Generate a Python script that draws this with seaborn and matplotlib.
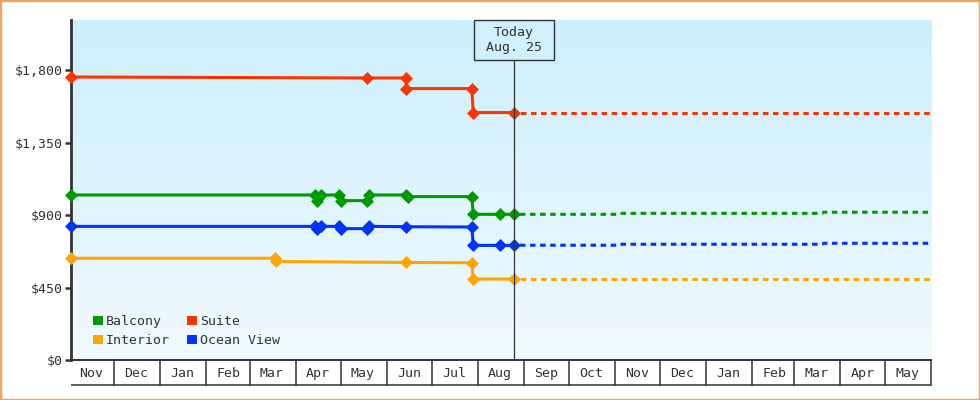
import numpy as np
import pandas as pd
import matplotlib
matplotlib.use('Agg')
import matplotlib.pyplot as plt
import matplotlib.dates as mdates
from matplotlib.patches import Patch, Rectangle
from matplotlib.transforms import blended_transform_factory
import seaborn as sns

# ---- data ----
cabins = ['Balcony', 'Interior', 'Suite', 'Ocean View']
colors = {'Balcony': '#009900', 'Interior': '#FFA500',
          'Suite': '#FF3300', 'Ocean View': '#0033FF'}

suite_dates = ['2023-11-02', '2024-05-19', '2024-06-14', '2024-06-14',
               '2024-07-28', '2024-07-29', '2024-08-25']
suite_prices = [1758, 1752, 1752, 1686, 1686, 1537, 1537]

balcony_dates = ['2023-11-02', '2024-04-14', '2024-04-15', '2024-04-18',
                 '2024-04-30', '2024-05-01', '2024-05-19', '2024-05-20',
                 '2024-06-14', '2024-06-15', '2024-07-28', '2024-07-29',
                 '2024-08-16', '2024-08-25']
balcony_prices = [1025, 1025, 990, 1025, 1025, 990, 990, 1025,
                  1025, 1015, 1015, 905, 905, 905]

ocean_dates = ['2023-11-02', '2024-04-14', '2024-04-15', '2024-04-18',
               '2024-04-30', '2024-05-01', '2024-05-19', '2024-05-20',
               '2024-06-14', '2024-07-28', '2024-07-29', '2024-08-16',
               '2024-08-25']
ocean_prices = [830, 830, 815, 830, 830, 816, 816, 830,
                828, 826, 712, 712, 712]

interior_dates = ['2023-11-02', '2024-03-18', '2024-03-19', '2024-06-14',
                  '2024-07-28', '2024-07-29', '2024-08-25']
interior_prices = [632, 632, 612, 606, 604, 503, 503]

# forecast (dashed) from today onward
fc_dates = ['2024-08-25', '2024-11-02', '2024-11-03', '2025-03-20',
            '2025-03-21', '2025-06-01']
fc_suite = [1537, 1537, 1537, 1537, 1537, 1537]
fc_balcony = [905, 905, 911, 911, 918, 918]
fc_ocean = [713, 713, 719, 719, 725, 725]
fc_interior = [503, 503, 503, 503, 503, 503]

today = '2024-08-25'
today_label = 'Today\nAug. 25'
y_ticks = [0, 450, 900, 1350, 1800]

history = {
    'Suite': (suite_dates, suite_prices),
    'Balcony': (balcony_dates, balcony_prices),
    'Ocean View': (ocean_dates, ocean_prices),
    'Interior': (interior_dates, interior_prices),
}
forecast = {
    'Suite': fc_suite, 'Balcony': fc_balcony,
    'Ocean View': fc_ocean, 'Interior': fc_interior,
}

# ---- style ----
sns.set_theme(style='white')
plt.rcParams['font.family'] = ['DejaVu Sans Mono']
dark = '#333333'
fs = 9.5

fig = plt.figure(figsize=(9.8, 4), dpi=100)
ax = fig.add_axes([70.7 / 980, 40 / 400, (931 - 70.7) / 980, 340 / 400])

# gradient background
grad = np.linspace(0, 1, 256).reshape(-1, 1)
top_c = np.array([0xCC, 0xEF, 0xFC]) / 255
bot_c = np.array([0xF1, 0xFA, 0xFF]) / 255
img = top_c[None, None, :] * (1 - grad[..., None]) + bot_c[None, None, :] * grad[..., None]
ax.imshow(img, extent=[0, 1, 0, 1], transform=ax.transAxes, aspect='auto',
          zorder=0, interpolation='bilinear')

for name, (d, p) in history.items():
    df = pd.DataFrame({'date': pd.to_datetime(d), 'price': p})
    sns.lineplot(data=df, x='date', y='price', ax=ax, color=colors[name],
                 estimator=None, sort=False, lw=2.2, marker='D', markersize=6,
                 markeredgecolor=colors[name], markeredgewidth=0.5, zorder=3,
                 clip_on=False)

for name, p in forecast.items():
    df = pd.DataFrame({'date': pd.to_datetime(fc_dates), 'price': p})
    sns.lineplot(data=df, x='date', y='price', ax=ax, color=colors[name],
                 estimator=None, sort=False, lw=2.2,
                 linestyle=(1.2, (1.8, 1.5)), zorder=2)

x0 = mdates.date2num(pd.Timestamp('2023-11-02'))
x1 = mdates.date2num(pd.Timestamp('2025-06-01'))
ax.set_xlim(x0, x1)
ax.set_ylim(0, 2112)

# today marker with box
tx = mdates.date2num(pd.Timestamp(today))
box_bottom = 300 / 340
ax.axvline(tx, ymin=0, ymax=box_bottom, color=dark, lw=0.9, zorder=4)
trans = blended_transform_factory(ax.transData, ax.transAxes)
half_w = 40 / ((931 - 70.7) / (x1 - x0))
ax.add_patch(Rectangle((tx - half_w, box_bottom), 2 * half_w, 1 - box_bottom,
                       transform=trans, facecolor='#CFF0FC', edgecolor=dark,
                       lw=1.0, zorder=5, clip_on=False))
ax.text(tx, (1 + box_bottom) / 2, today_label, transform=trans, ha='center',
        va='center', fontsize=fs, color=dark, zorder=6, linespacing=1.25)

# y axis
ax.set_yticks(y_ticks)
ax.set_yticklabels(['${:,.0f}'.format(v) for v in y_ticks])
ax.tick_params(axis='y', which='major', length=4, width=1.8, color=dark,
               labelsize=fs, labelcolor=dark, pad=2, left=True)

# x axis: month cells
ax.xaxis.set_minor_locator(mdates.MonthLocator())
ax.xaxis.set_major_locator(mdates.MonthLocator(bymonthday=16))
ax.xaxis.set_major_formatter(mdates.DateFormatter('%b'))
ax.tick_params(axis='x', which='major', length=0, labelsize=fs,
               labelcolor=dark, pad=5, bottom=True)
ax.tick_params(axis='x', which='minor', length=18.5, width=1.1, color=dark,
               direction='out', bottom=True)
ax.plot([0, 1], [-25 / 340, -25 / 340], transform=ax.transAxes, color=dark,
        lw=1.1, clip_on=False, solid_capstyle='butt')

ax.set_xlabel('')
ax.set_ylabel('')
for s in ['top', 'right']:
    ax.spines[s].set_visible(False)
ax.spines['left'].set_color(dark)
ax.spines['left'].set_linewidth(2.0)
ax.spines['left'].set_zorder(2.5)
ax.spines['bottom'].set_color(dark)
ax.spines['bottom'].set_linewidth(1.4)
ax.grid(False)

handles = [Patch(facecolor=colors[c], edgecolor='none', label=c) for c in cabins]
ax.legend(handles=handles, ncol=2, loc='lower left',
          bbox_to_anchor=(22 / 861, 13 / 340), frameon=False, fontsize=fs,
          handlelength=0.75, handleheight=0.75, handletextpad=0.25,
          columnspacing=1.3, labelspacing=0.45, borderpad=0, borderaxespad=0,
          labelcolor=dark)

fig.patches.append(Rectangle((0, 0), 1, 1, transform=fig.transFigure,
                             fill=False, edgecolor='#E8A860', lw=2.5))

fig.savefig('out.png', dpi=100)
